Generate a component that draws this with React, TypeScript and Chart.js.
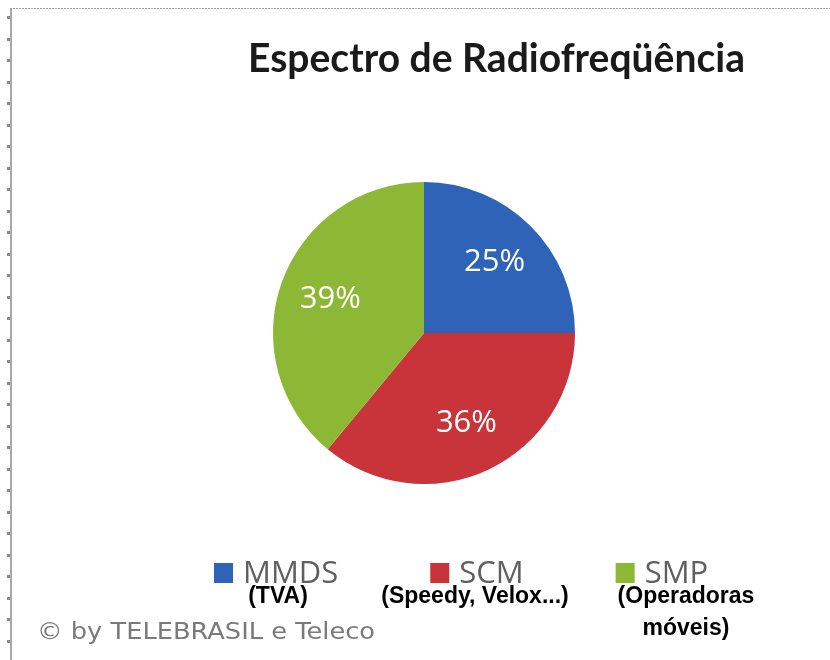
import { useEffect, useRef } from "react";
import { Chart, registerables } from "chart.js";

Chart.register(...registerables);

// ---- data ----
const titleText = "Espectro de Radiofreqüência";
const categories = ["MMDS", "SCM", "SMP"];
const subLabels = [["(TVA)"], ["(Speedy, Velox...)"], ["(Operadoras", "móveis)"]];
const shares = [25, 36, 39];
const sliceColors = ["#2E63B8", "#C8343A", "#8CB836"];
const creditText = "© by TELEBRASIL e Teleco";

// ---- layout / style ----
const W = 830;
const H = 660;
const layout = {
  titleX: 248,
  titleBaseline: 72,
  titleWidth: 497,
  legendStartX: 214,
  legendBoxTop: 563,
  legendBox: 19,
  legendGap: 10,
  legendPadding: 92,
  legendBaseline: 583,
  subCenters: [278, 475, 686],
  subBaseline: 603,
  subLineHeight: 32,
  creditX: 37,
  creditBaseline: 639,
  creditWidth: 338,
  labelRadiusFactor: 0.66,
};

function fitText(ctx: CanvasRenderingContext2D, text: string, x: number, y: number, width: number) {
  const m = ctx.measureText(text).width;
  ctx.save();
  ctx.translate(x, y);
  ctx.scale(width / m, 1);
  ctx.textAlign = "left";
  ctx.fillText(text, 0, 0);
  ctx.restore();
}

const decorPlugin = {
  id: "decor",
  afterDraw(chart: any) {
    const ctx: CanvasRenderingContext2D = chart.ctx;
    ctx.save();
    // frame borders
    ctx.strokeStyle = "#9a9a9a";
    ctx.lineWidth = 1;
    ctx.setLineDash([2, 1]);
    ctx.beginPath();
    ctx.moveTo(10, 8.5);
    ctx.lineTo(W, 8.5);
    ctx.stroke();
    ctx.setLineDash([]);
    ctx.strokeStyle = "#a8a8a8";
    ctx.lineWidth = 2;
    ctx.beginPath();
    ctx.moveTo(11, 8);
    ctx.lineTo(11, H);
    ctx.stroke();
    ctx.fillStyle = "#8a8a8a";
    for (let y = 16; y < H; y += 21.5) {
      ctx.fillRect(7, Math.round(y), 3, 3);
    }

    // title
    ctx.fillStyle = "#1a1a1a";
    ctx.textBaseline = "alphabetic";
    ctx.font = "bold 40px Lato";
    fitText(ctx, titleText, layout.titleX, layout.titleBaseline, layout.titleWidth);

    // slice labels
    const meta = chart.getDatasetMeta(0);
    ctx.fillStyle = "#ffffff";
    ctx.font = "31px 'Open Sans'";
    ctx.textAlign = "center";
    ctx.textBaseline = "middle";
    meta.data.forEach((arc: any, i: number) => {
      const p = arc.getProps(["x", "y", "startAngle", "endAngle", "outerRadius"], true);
      const mid = (p.startAngle + p.endAngle) / 2;
      const r = p.outerRadius * layout.labelRadiusFactor;
      ctx.fillText(`${shares[i]}%`, p.x + Math.cos(mid) * r, p.y + Math.sin(mid) * r);
    });

    // legend
    ctx.textAlign = "left";
    ctx.textBaseline = "alphabetic";
    ctx.font = "31px 'Open Sans'";
    let x = layout.legendStartX;
    categories.forEach((c, i) => {
      ctx.fillStyle = sliceColors[i];
      ctx.fillRect(x, layout.legendBoxTop, layout.legendBox, layout.legendBox + 1);
      ctx.fillStyle = "#5f5f5f";
      const tx = x + layout.legendBox + layout.legendGap;
      ctx.fillText(c, tx, layout.legendBaseline);
      x = tx + ctx.measureText(c).width + layout.legendPadding;
    });

    // sub labels
    ctx.fillStyle = "#000000";
    ctx.font = "bold 23px 'Liberation Sans', Arial";
    ctx.textAlign = "center";
    subLabels.forEach((lines, i) => {
      lines.forEach((ln, j) => {
        ctx.fillText(ln, layout.subCenters[i], layout.subBaseline + j * layout.subLineHeight);
      });
    });

    // credit
    ctx.fillStyle = "#7a7a7a";
    ctx.font = "23px 'DejaVu Sans'";
    fitText(ctx, creditText, layout.creditX, layout.creditBaseline, layout.creditWidth);
    ctx.restore();
  },
};

export default function App() {
  const ref = useRef<HTMLCanvasElement>(null);
  useEffect(() => {
    if (!ref.current) return;
    const chart = new Chart(ref.current, {
      type: "pie",
      data: {
        labels: categories,
        datasets: [
          {
            data: shares,
            backgroundColor: sliceColors,
            borderWidth: 0,
            hoverOffset: 0,
          },
        ],
      },
      options: {
        responsive: false,
        animation: false,
        events: [],
        layout: { padding: { left: 273, right: 255, top: 182, bottom: 176 } },
        plugins: {
          legend: { display: false },
          title: { display: false },
          tooltip: { enabled: false },
        },
      },
      plugins: [decorPlugin],
    });
    return () => chart.destroy();
  }, []);
  return (
    <div style={{ position: "fixed", left: 0, top: 0, width: W, height: H, background: "#fff" }}>
      <canvas ref={ref} width={W} height={H} style={{ display: "block", width: W, height: H }} />
    </div>
  );
}
